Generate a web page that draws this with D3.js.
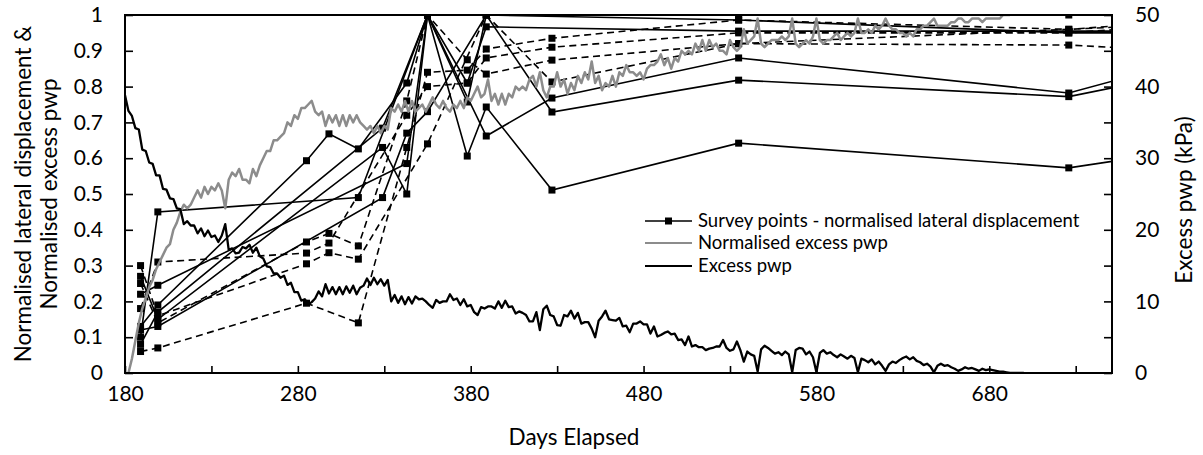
<!DOCTYPE html>
<html>
<head>
<meta charset="utf-8">
<script src="https://cdn.jsdelivr.net/npm/d3@7"></script>
<style>
  html, body { margin: 0; padding: 0; background: #fff; }
  svg { display: block; font-family: Lato, "Open Sans", sans-serif; }
</style>
</head>
<body>
<svg id="chart" width="1203" height="455"></svg>
<script>
// ---- Survey dates (days elapsed) and normalised lateral displacement per survey point ----
const surveyDays = [189, 199, 285, 298, 315, 329, 343, 355, 378, 389, 427, 535, 726, 770];

const sp1  = [0.10, 0.45, null, null, 0.49, null, null, 1.00, 0.606, 0.743, 0.511, 0.642, 0.573, 0.605];
const sp2  = [0.13, 0.19, 0.593, 0.668, 0.626, null, 0.81, 1.00, null, 0.662, 0.768, 0.88, 0.782, 0.84];
const sp3  = [0.22, 0.245, null, null, null, null, 0.585, 1.00, 0.757, 1.00, 0.729, 0.818, 0.772, 0.815];
const sp4  = [0.27, 0.15, null, null, null, 0.63, 0.50, 1.00, null, 1.00, null, 1.00, 1.00, 1.00];
const sp5  = [0.08, 0.17, null, null, null, 0.684, null, 1.00, 0.81, 0.967, null, 0.955, 0.955, 0.955];
const sp6  = [0.12, 0.13, null, null, null, 0.49, 0.67, 0.73, null, 1.00, null, 0.986, 0.95, 0.95];
const sp7  = [0.06, 0.07, 0.195, null, 0.14, null, 0.63, 0.84, 0.846, 0.905, 0.935, 0.986, 0.96, 0.975];
const sp8  = [0.18, 0.31, 0.335, 0.363, null, null, 0.72, 0.80, 0.81, 0.88, 0.91, 0.95, 0.95, 0.965];
const sp9  = [0.25, 0.14, 0.366, 0.39, 0.355, null, 0.76, 1.00, 0.875, 0.835, 0.874, 0.92, 0.916, 0.905];
const sp10 = [0.30, 0.16, 0.305, 0.336, 0.318, null, null, 0.64, null, 1.00, 0.813, 0.92, 0.96, 0.97];

const solidSeries  = [sp1, sp2, sp3, sp4, sp5, sp6];
const dashedSeries = [sp7, sp8, sp9, sp10];

// ---- Excess pore water pressure (kPa), logged every 2 days from day 180 ----
const pwpStartDay = 180;
const pwpStepDays = 2;
const excessPwp = [
  38.8, 36.6, 35.9, 34.2, 34.0, 31.2, 31.0, 29.4, 29.2, 27.6,
  27.6, 25.7, 25.6, 24.4, 24.3, 23.0, 22.9, 20.8, 21.2, 20.6,
  20.6, 19.5, 20.2, 19.1, 19.9, 19.0, 19.2, 18.3, 19.2, 20.8,
  17.2, 17.4, 16.7, 16.8, 17.6, 17.4, 17.9, 16.8, 17.5, 16.3,
  16.0, 14.9, 14.8, 13.9, 13.9, 13.3, 13.6, 12.3, 12.6, 11.3,
  11.3, 10.1, 10.3, 9.6, 9.9, 10.4, 11.4, 10.7, 12.4, 11.1,
  12.0, 11.0, 12.0, 11.0, 12.1, 11.2, 12.2, 11.0, 11.9, 12.2,
  13.2, 12.3, 13.3, 12.4, 13.1, 12.2, 13.0, 10.0, 10.9, 9.8,
  10.7, 9.6, 10.6, 9.7, 10.7, 10.3, 10.4, 10.0, 9.5, 9.1,
  10.2, 9.8, 10.0, 10.0, 11.0, 10.2, 10.4, 9.5, 10.3, 9.3,
  9.5, 8.5, 8.1, 9.2, 9.0, 9.3, 9.3, 9.0, 10.0, 9.1,
  10.1, 9.2, 9.3, 8.3, 8.6, 8.4, 8.1, 7.2, 7.2, 8.5,
  6.0, 8.9, 9.4, 8.1, 7.9, 6.7, 6.6, 8.1, 7.9, 8.7,
  7.6, 8.4, 6.9, 7.1, 7.1, 6.2, 5.0, 7.3, 7.9, 8.7,
  7.5, 7.4, 7.3, 7.7, 6.5, 6.6, 5.7, 6.9, 6.9, 7.2,
  6.8, 6.8, 5.5, 6.5, 5.1, 5.3, 5.6, 5.8, 5.4, 5.5,
  4.6, 4.7, 3.9, 5.1, 3.7, 3.9, 3.6, 3.6, 3.2, 3.4,
  3.5, 3.7, 3.7, 4.6, 3.5, 3.1, 3.3, 4.4, 3.2, 1.6,
  3.0, 2.6, 2.4, 0.2, 3.3, 3.8, 3.5, 3.1, 2.7, 2.9,
  2.5, 3.0, 2.6, 0.1, 3.2, 3.5, 3.4, 2.6, 3.0, 2.2,
  0.1, 2.8, 3.2, 2.7, 2.9, 2.5, 2.2, 2.6, 2.3, 2.0,
  2.4, 2.1, 0.1, 2.0, 1.8, 1.5, 1.9, 1.2, 1.6, 1.0,
  0.3, 1.2, 1.6, 1.4, 1.8, 2.1, 2.3, 1.9, 2.2, 1.7,
  1.5, 1.1, 1.3, 0.9, 0.1, 1.0, 1.3, 1.0, 1.1, 0.8,
  0.6, 0.3, 0.5, 0.8, 0.6, 0.7, 0.5, 0.3, 0.6, 0.4,
  0.5, 0.4, 0.3, 0.2, 0.2, 0.1, 0.0, 0.0, 0.0, 0.0,
  0.0
];

// ---- Normalised excess pwp, every 2 days from day 182 ----
const normStartDay = 182;
const normStepDays = 2;
const normPwp = [
  0.00, 0.04, 0.09, 0.14, 0.18, 0.21, 0.24, 0.26, 0.29, 0.31,
  0.33, 0.35, 0.36, 0.40, 0.42, 0.45, 0.47, 0.46, 0.47, 0.49,
  0.51, 0.49, 0.52, 0.50, 0.52, 0.51, 0.53, 0.51, 0.46, 0.54,
  0.56, 0.55, 0.57, 0.54, 0.54, 0.53, 0.57, 0.55, 0.58, 0.60,
  0.62, 0.62, 0.65, 0.65, 0.66, 0.67, 0.70, 0.69, 0.72, 0.71,
  0.74, 0.74, 0.75, 0.76, 0.73, 0.72, 0.73, 0.69, 0.72, 0.70,
  0.72, 0.69, 0.72, 0.69, 0.72, 0.70, 0.72, 0.70, 0.69, 0.68,
  0.69, 0.67, 0.69, 0.67, 0.69, 0.68, 0.74, 0.73, 0.75, 0.73,
  0.76, 0.73, 0.76, 0.73, 0.74, 0.75, 0.73, 0.75, 0.77, 0.75,
  0.74, 0.76, 0.74, 0.73, 0.75, 0.74, 0.76, 0.74, 0.77, 0.76,
  0.78, 0.80, 0.77, 0.78, 0.82, 0.76, 0.78, 0.75, 0.78, 0.75,
  0.78, 0.77, 0.80, 0.79, 0.80, 0.79, 0.82, 0.83, 0.80, 0.84,
  0.79, 0.77, 0.80, 0.80, 0.84, 0.80, 0.82, 0.78, 0.81, 0.79,
  0.83, 0.81, 0.84, 0.82, 0.87, 0.81, 0.83, 0.79, 0.81, 0.80,
  0.83, 0.80, 0.84, 0.83, 0.86, 0.84, 0.84, 0.83, 0.84, 0.82,
  0.85, 0.86, 0.86, 0.87, 0.89, 0.86, 0.88, 0.85, 0.88, 0.87,
  0.90, 0.89, 0.90, 0.89, 0.92, 0.90, 0.93, 0.90, 0.93, 0.91,
  0.92, 0.90, 0.90, 0.89, 0.93, 0.91, 0.90, 0.91, 0.96, 0.92,
  0.93, 0.94, 0.99, 0.92, 0.91, 0.92, 0.93, 0.93, 0.93, 0.94,
  0.93, 0.94, 0.99, 0.92, 0.91, 0.92, 0.93, 0.92, 0.94, 0.99,
  0.93, 0.92, 0.93, 0.93, 0.94, 0.95, 0.93, 0.94, 0.95, 0.94,
  0.95, 0.99, 0.95, 0.95, 0.96, 0.95, 0.97, 0.96, 0.97, 0.99,
  0.97, 0.96, 0.96, 0.95, 0.95, 0.94, 0.95, 0.94, 0.96, 0.96,
  0.97, 0.97, 0.98, 0.99, 0.97, 0.97, 0.97, 0.97, 0.98, 0.98,
  0.99, 0.99, 0.98, 0.98, 0.99, 0.99, 0.99, 0.98, 0.99, 0.99,
  0.99, 0.99, 0.99, 1.00, 1.00, 1.00
];

// ---- Axis ticks ----
const xTicks = [180, 230, 280, 330, 380, 430, 480, 530, 580, 630, 680, 730];
const xTickLabels = [180, 280, 380, 480, 580, 680];
const yLeftTicks = [0, 0.1, 0.2, 0.3, 0.4, 0.5, 0.6, 0.7, 0.8, 0.9, 1];
const yRightTicks = [0, 5, 10, 15, 20, 25, 30, 35, 40, 45, 50];
const yRightTickLabels = [0, 10, 20, 30, 40, 50];

const legendLabels = [
  "Survey points - normalised lateral displacement",
  "Normalised excess pwp",
  "Excess pwp"
];

// ---- Layout ----
const plot = { left: 125, right: 1112, top: 15, bottom: 373 };
const svg = d3.select("#chart");

const x  = d3.scaleLinear().domain([180, 751]).range([plot.left, plot.right]);
const yL = d3.scaleLinear().domain([0, 1]).range([plot.bottom, plot.top]);
const yR = d3.scaleLinear().domain([0, 50]).range([plot.bottom, plot.top]);

svg.append("defs").append("clipPath").attr("id", "plotClip")
  .append("rect")
  .attr("x", plot.left).attr("y", plot.top - 1)
  .attr("width", plot.right - plot.left).attr("height", plot.bottom - plot.top + 2);

const data = svg.append("g").attr("clip-path", "url(#plotClip)");

// Survey point lines and markers
function drawSurvey(series, dashed) {
  const pts = surveyDays.map((d, i) => [d, series[i]]).filter(p => p[1] != null);
  data.append("path")
    .datum(pts)
    .attr("fill", "none")
    .attr("stroke", "#000")
    .attr("stroke-width", 1.6)
    .attr("stroke-dasharray", dashed ? "7,4.5" : null)
    .attr("d", d3.line().x(p => x(p[0])).y(p => yL(p[1])));
  data.append("g").selectAll("rect")
    .data(pts)
    .join("rect")
    .attr("x", p => x(p[0]) - 3.5)
    .attr("y", p => yL(p[1]) - 3.5)
    .attr("width", 7).attr("height", 7)
    .attr("fill", "#000");
}
solidSeries.forEach(s => drawSurvey(s, false));
dashedSeries.forEach(s => drawSurvey(s, true));

// Normalised excess pwp (left axis)
data.append("path")
  .datum(normPwp)
  .attr("fill", "none")
  .attr("stroke", "#8c8c8c")
  .attr("stroke-width", 2.5)
  .attr("stroke-linejoin", "round")
  .attr("d", d3.line()
    .x((v, i) => x(normStartDay + i * normStepDays))
    .y(v => yL(v)));

// Excess pwp (right axis)
data.append("path")
  .datum(excessPwp)
  .attr("fill", "none")
  .attr("stroke", "#000")
  .attr("stroke-width", 2.3)
  .attr("stroke-linejoin", "round")
  .attr("d", d3.line()
    .x((v, i) => x(pwpStartDay + i * pwpStepDays))
    .y(v => yR(v)));

// ---- Axes ----
const tickFont = 21;
const fmtLeft = d3.format(".1~f");

const axL = svg.append("g")
  .attr("transform", `translate(${plot.left},0)`)
  .call(d3.axisLeft(yL).tickValues(yLeftTicks).tickFormat(fmtLeft)
    .tickSizeInner(-8).tickSizeOuter(0).tickPadding(22));

const axR = svg.append("g")
  .attr("transform", `translate(${plot.right},0)`)
  .call(d3.axisRight(yR).tickValues(yRightTicks)
    .tickFormat(d => yRightTickLabels.includes(d) ? d : "")
    .tickSizeInner(-8).tickSizeOuter(0).tickPadding(23));

const axB = svg.append("g")
  .attr("transform", `translate(0,${plot.bottom})`)
  .call(d3.axisBottom(x).tickValues(xTicks)
    .tickFormat(d => xTickLabels.includes(d) ? d : "")
    .tickSizeInner(-7).tickSizeOuter(0).tickPadding(13));

[axL, axR, axB].forEach(g => {
  g.select(".domain").remove();
  g.selectAll("line").attr("stroke", "#000").attr("stroke-width", 1.6);
  g.selectAll("text").attr("fill", "#000").style("font-size", tickFont + "px")
    .style("font-family", "Lato, 'Open Sans', sans-serif");
});

// Plot frame
svg.append("rect")
  .attr("x", plot.left).attr("y", plot.top)
  .attr("width", plot.right - plot.left).attr("height", plot.bottom - plot.top)
  .attr("fill", "none").attr("stroke", "#000").attr("stroke-width", 2);

// ---- Axis titles ----
const titleFont = 22.5;
svg.append("text")
  .attr("x", 574).attr("y", 445)
  .attr("text-anchor", "middle")
  .style("font-size", titleFont + "px")
  .text("Days Elapsed");

svg.append("text")
  .attr("transform", "translate(1192,200) rotate(-90)")
  .attr("text-anchor", "middle")
  .style("font-size", titleFont + "px")
  .text("Excess pwp (kPa)");

const leftTitle = svg.append("text")
  .attr("transform", "translate(31,194) rotate(-90)")
  .attr("text-anchor", "middle")
  .style("font-size", titleFont + "px");
leftTitle.append("tspan").attr("x", 0).attr("dy", 0).text("Normalised lateral displacement &");
leftTitle.append("tspan").attr("x", 0).attr("dy", 26).text("Normalised excess pwp");

// ---- Legend ----
const legend = svg.append("g");
const legendY = [221, 243, 266];
const legendStroke = [
  { color: "#000", width: 1.6, marker: true },
  { color: "#8c8c8c", width: 2.2, marker: false },
  { color: "#000", width: 2, marker: false }
];
legendLabels.forEach((label, i) => {
  const st = legendStroke[i];
  legend.append("line")
    .attr("x1", 645).attr("x2", 692)
    .attr("y1", legendY[i]).attr("y2", legendY[i])
    .attr("stroke", st.color).attr("stroke-width", st.width);
  if (st.marker) {
    legend.append("rect")
      .attr("x", 668.5 - 3.5).attr("y", legendY[i] - 3.5)
      .attr("width", 7).attr("height", 7).attr("fill", "#000");
  }
  legend.append("text")
    .attr("x", 698).attr("y", legendY[i])
    .attr("dy", "0.35em")
    .style("font-size", "18.5px")
    .text(label);
});
</script>
</body>
</html>
